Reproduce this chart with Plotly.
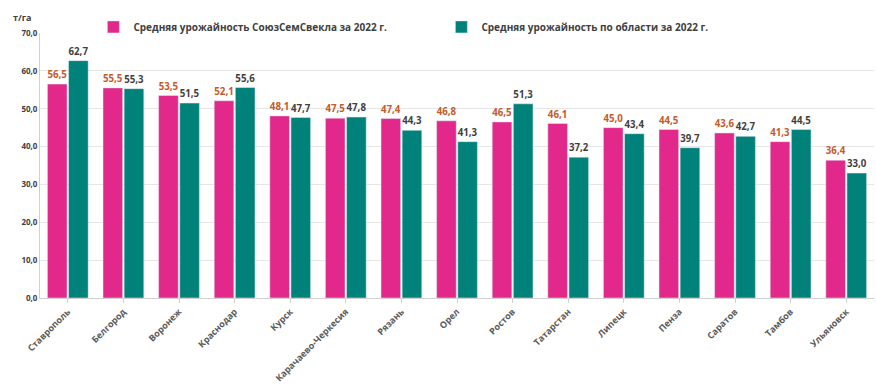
import plotly.graph_objects as go

regions = ["Ставрополь", "Белгород", "Воронеж", "Краснодар", "Курск",
           "Карачаево-Черкесия", "Рязань", "Орел", "Ростов", "Татарстан",
           "Липецк", "Пенза", "Саратов", "Тамбов", "Ульяновск"]
soyuz = [56.5, 55.5, 53.5, 52.1, 48.1, 47.5, 47.4, 46.8, 46.5, 46.1, 45.0, 44.5, 43.6, 41.3, 36.4]
oblast = [62.7, 55.3, 51.5, 55.6, 47.7, 47.8, 44.3, 41.3, 51.3, 37.2, 43.4, 39.7, 42.7, 44.5, 33.0]
name1 = "Средняя урожайность СоюзСемСвекла за 2022 г."
name2 = "Средняя урожайность по области за 2022 г."
y_ticks = [0, 10, 20, 30, 40, 50, 60, 70]

def fmt(v):
    return f"{v:.1f}".replace(".", ",")

fig = go.Figure()
fig.add_bar(x=regions, y=soyuz, name=name1, marker_color="#e2288a",
            text=[fmt(v) for v in soyuz], textposition="outside",
            textfont=dict(color="#c55a2b", size=10, family="Open Sans", weight="bold"),
            cliponaxis=False)
fig.add_bar(x=regions, y=oblast, name=name2, marker_color="#00827a",
            text=[fmt(v) for v in oblast], textposition="outside",
            textfont=dict(color="#3f3f3f", size=10, family="Open Sans", weight="bold"),
            cliponaxis=False)

fig.update_layout(
    width=876, height=391,
    margin=dict(l=40, r=2, t=33, b=93, autoexpand=False),
    paper_bgcolor="white", plot_bgcolor="white",
    barmode="group", bargap=0.24, bargroupgap=0.07,
    separators=", ",
    font=dict(family="Open Sans", color="#404040"),
    showlegend=True,
    legend=dict(orientation="h", x=0.064, y=1.023, xanchor="left", yanchor="middle",
                font=dict(size=10, color="#404040", family="Open Sans", weight="bold"),
                entrywidth=303, entrywidthmode="pixels", bgcolor="rgba(0,0,0,0)",
                itemwidth=30, tracegroupgap=0),
    xaxis=dict(tickangle=-45, automargin=False,
               tickfont=dict(size=9, color="#595959", family="Open Sans", weight="bold"),
               showline=True, linecolor="#d0d0d0", ticks="outside", ticklen=4,
               tickcolor="#d0d0d0"),
    yaxis=dict(range=[0, 70], tickvals=y_ticks, tickformat=".1f", automargin=False,
               tickfont=dict(size=8, color="#404040", family="Open Sans", weight="bold"),
               showgrid=True, gridcolor="#e6e6e6", showline=True, linecolor="#d0d0d0",
               zeroline=False),
    annotations=[dict(text="<b>т/га</b>", xref="paper", yref="paper", x=-0.022, y=1.06,
                      xanchor="center", yanchor="middle", showarrow=False,
                      font=dict(size=9, color="#404040"))],
)
fig.write_html("out.html")
